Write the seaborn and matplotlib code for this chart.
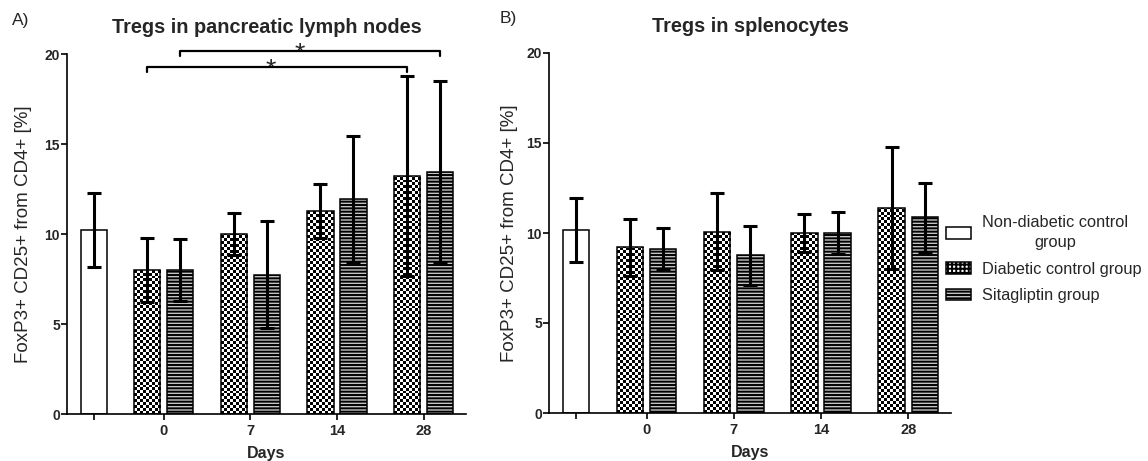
import numpy as np
import pandas as pd
import matplotlib
matplotlib.use("Agg")
import matplotlib.pyplot as plt
import seaborn as sns
from matplotlib.patches import Patch

# ---- data (mean and SD) ----
days = ["0", "7", "14", "28"]
groups = ["Non-diabetic control group", "Diabetic control group", "Sitagliptin group"]

# A) pancreatic lymph nodes
pln_nondiab = 10.2
pln_nondiab_sd = 2.05
pln_diab = [8.0, 9.98, 11.28, 13.2]
pln_diab_sd = [1.75, 1.17, 1.52, 5.55]
pln_sita = [8.0, 7.75, 11.93, 13.45]
pln_sita_sd = [1.72, 2.95, 3.5, 5.05]

# B) splenocytes
spl_nondiab = 10.18
spl_nondiab_sd = 1.77
spl_diab = [9.2, 10.06, 10.0, 11.39]
spl_diab_sd = [1.6, 2.14, 1.04, 3.38]
spl_sita = [9.12, 8.76, 10.0, 10.88]
spl_sita_sd = [1.13, 1.65, 1.16, 1.92]

# layout of the bar slots (in bar-slot units)
first_gap = 2.12
group_step = 2.63
centers = [first_gap + group_step * i for i in range(len(days))]


def panel_frame(nd, nd_sd, diab, diab_sd, sita, sita_sd):
    rows = [(0.0, nd, nd_sd, groups[0])]
    for i, c in enumerate(centers):
        rows.append((c - 0.5, diab[i], diab_sd[i], groups[1]))
        rows.append((c + 0.5, sita[i], sita_sd[i], groups[2]))
    return pd.DataFrame(rows, columns=["pos", "value", "sd", "group"])


sns.set_style("ticks")
plt.rcParams["font.family"] = ["Liberation Sans", "DejaVu Sans"]
plt.rcParams["hatch.linewidth"] = 1.4
plt.rcParams["axes.linewidth"] = 1.2

fig = plt.figure(figsize=(11.48, 4.61), dpi=100)
ax_a = fig.add_axes([67 / 1148, 47 / 461, 399 / 1148, 360 / 461])
ax_b = fig.add_axes([549 / 1148, 48 / 461, 402 / 1148, 360 / 461])

sita_face = "#c4c4c4"
palette = {groups[0]: "white", groups[1]: "white", groups[2]: sita_face}


def draw_panel(ax, df, title, ylab_x):
    sns.barplot(data=df, x="pos", y="value", hue="group", hue_order=groups,
                native_scale=True, dodge=False, errorbar=None, width=0.8,
                palette=palette, edgecolor="black", linewidth=1.1,
                legend=False, ax=ax)
    ax.set_xlim(-0.82, 11.3)
    ax.set_ylim(0, 20)

    # pixel size of one data unit, to make square checker cells
    p0 = ax.transData.transform((0, 0))
    p1 = ax.transData.transform((1, 1))
    px_x, px_y = p1[0] - p0[0], p1[1] - p0[1]

    # checkerboard fill for the diabetic control bars
    for bar in ax.containers[1]:
        bar.set_facecolor("none")
        x0, y0 = bar.get_xy()
        w, h = bar.get_width(), bar.get_height()
        ncol = 9
        cw = w / ncol
        ch = cw * px_x / px_y
        nrow = int(np.ceil(h / ch))
        tex = np.indices((nrow, ncol)).sum(axis=0) % 2
        im = ax.imshow(tex, cmap="gray", extent=(x0, x0 + w, y0, y0 + nrow * ch),
                       aspect="auto", interpolation="nearest", origin="lower",
                       zorder=0.5)
        im.set_clip_path(bar)

    # horizontal lines for the sitagliptin bars
    for bar in ax.containers[2]:
        bar.set_hatch("-----")

    ax.errorbar(df["pos"], df["value"], yerr=df["sd"], fmt="none", ecolor="black",
                elinewidth=2.2, capsize=5, capthick=2.2, zorder=3)

    ax.set_xlim(-0.82, 11.3)
    ax.set_ylim(0, 20)
    ax.set_xticks([0.0] + centers, [""] + days)
    ax.set_yticks([0, 5, 10, 15, 20])
    ax.tick_params(axis="both", direction="out", length=4, width=1.2, color="black")
    ax.tick_params(axis="y", pad=1, labelsize=10)
    ax.tick_params(axis="x", pad=3, labelsize=10.5)
    for lab in ax.get_xticklabels() + ax.get_yticklabels():
        lab.set_fontweight("bold")
    ax.set_xlabel("Days", fontsize=11.5, fontweight="bold")
    ax.xaxis.set_label_coords(0.5, -0.088)
    ax.set_ylabel("FoxP3+ CD25+ from CD4+ [%]", fontsize=13.5)
    ax.yaxis.set_label_coords(ylab_x, 0.5)
    ax.set_title(title, fontsize=14.3, fontweight="bold", pad=15)
    sns.despine(ax=ax)
    for sp in ax.spines.values():
        sp.set_color("black")


df_a = panel_frame(pln_nondiab, pln_nondiab_sd, pln_diab, pln_diab_sd, pln_sita, pln_sita_sd)
df_b = panel_frame(spl_nondiab, spl_nondiab_sd, spl_diab, spl_diab_sd, spl_sita, spl_sita_sd)

draw_panel(ax_a, df_a, "Tregs in pancreatic lymph nodes", -0.087)
draw_panel(ax_b, df_b, "Tregs in splenocytes", -0.076)

# significance brackets in panel A
brackets = [(centers[0] - 0.5, centers[3] - 0.5, 19.3, 0.2),
            (centers[0] + 0.5, centers[3] + 0.5, 20.17, 0.3)]
for xa, xb, yb, shift in brackets:
    ax_a.plot([xa, xa, xb, xb], [yb - 0.3, yb, yb, yb - 0.3], color="black", lw=1.6,
              clip_on=False, zorder=4)
    ax_a.text((xa + xb) / 2 - shift, yb - 0.55, "*", ha="center", va="baseline",
              fontsize=19, clip_on=False)

fig.text(12 / 1148, 1 - 20 / 461, "A)", fontsize=12.5, va="center")
fig.text(500 / 1148, 1 - 18 / 461, "B)", fontsize=12.5, va="center")

handles = [
    Patch(facecolor="white", edgecolor="black", linewidth=1.1),
    Patch(facecolor="white", edgecolor="black", linewidth=1.1, hatch="++++"),
    Patch(facecolor=sita_face, edgecolor="black", linewidth=1.1, hatch="-----"),
]
labels = ["Non-diabetic control\ngroup", "Diabetic control group", "Sitagliptin group"]
leg = fig.legend(handles, labels, loc="upper left", bbox_to_anchor=(946 / 1148, 1 - 215 / 461),
                 frameon=False, fontsize=11.8, handlelength=1.5, handleheight=0.7,
                 handletextpad=0.7, labelspacing=0.7, borderaxespad=0, borderpad=0)
for t in leg.get_texts():
    t.set_multialignment("center")
    t.set_linespacing(1.45)

fig.savefig("out.png", dpi=100)
